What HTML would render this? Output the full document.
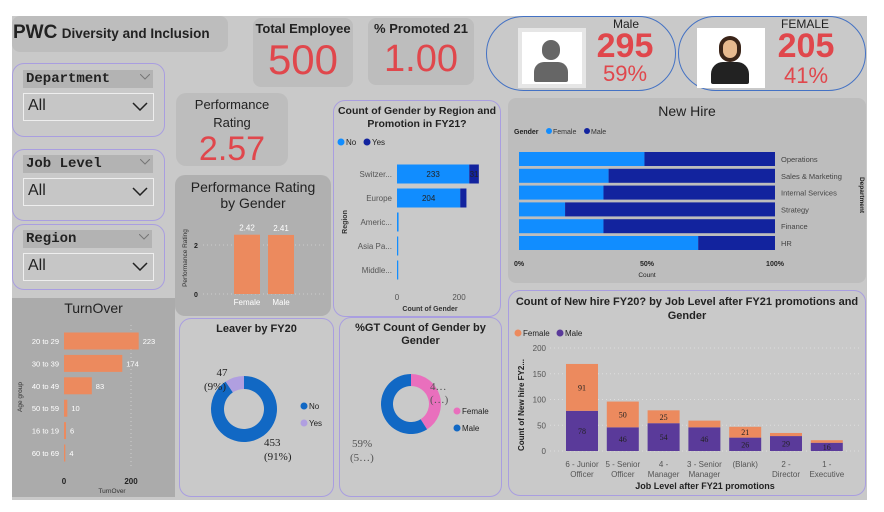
<!DOCTYPE html>
<html><head><meta charset="utf-8">
<style>
body{margin:0;width:884px;height:512px;background:#fff;position:relative;overflow:hidden;font-family:"Liberation Sans",sans-serif}
.a{position:absolute;box-sizing:border-box}
.card{background:#bdbdbd;border-radius:8px}
.brd{border:1.5px solid #a99ee0;border-radius:12px}
.lbl{text-align:center;color:#222;font-weight:bold}
.red{color:#e0474c;text-align:center}
.sh{background:#b3b3b3;font-family:"Liberation Mono",monospace;font-weight:bold;font-size:14px;color:#222;padding-left:3px;line-height:18px}
.dd{border:1.5px solid #eee;background:#c6c6c6;font-size:16px;color:#222;padding-left:4px;line-height:24px}
.chev{position:absolute;right:5px;top:8px}
.chs{position:absolute;right:3px;top:4px}
svg text{font-family:"Liberation Sans",sans-serif}
</style></head><body>
<div class="a" style="left:12px;top:16px;width:855px;height:484px;background:#c9c9c9"></div>
<div class="a card" style="left:12px;top:16px;width:216px;height:36px;padding:6px 0 0 1px;white-space:nowrap"><span style="font-size:19px;font-weight:bold;color:#222">PWC</span> <span style="font-size:13.5px;font-weight:bold;color:#222">Diversity and Inclusion</span></div>

<div class="a card" style="left:253px;top:18px;width:100px;height:69px"><div class="lbl" style="font-size:13px;margin-top:3px">Total Employee</div><div class="red" style="font-size:42px;line-height:44px;margin-top:2px">500</div></div>
<div class="a card" style="left:368px;top:18px;width:106px;height:67px"><div class="lbl" style="font-size:13px;margin-top:3px">% Promoted 21</div><div class="red" style="font-size:38px;line-height:40px;margin-top:3px">1.00</div></div>

<div class="a" style="left:486px;top:16px;width:190px;height:75px;border:1px solid #4472c4;border-radius:38px"></div>
<div class="a" style="left:518px;top:28px;width:68px;height:60px;background:#fff;border:4px solid #e6e6e6"><div style="position:absolute;left:20px;top:8px;width:18px;height:20px;border-radius:9px;background:#666"></div><div style="position:absolute;left:12px;top:30px;width:34px;height:20px;border-radius:10px 10px 2px 2px;background:#666"></div></div>
<div class="a lbl" style="left:596px;top:17px;width:60px;font-size:12px;font-weight:normal">Male</div>
<div class="a red" style="left:588px;top:28px;width:74px;font-size:34px;font-weight:bold;line-height:36px">295</div>
<div class="a red" style="left:588px;top:62px;width:74px;font-size:22px;line-height:24px">59%</div>

<div class="a" style="left:678px;top:16px;width:188px;height:75px;border:1px solid #4472c4;border-radius:38px"></div>
<div class="a" style="left:697px;top:28px;width:68px;height:60px;background:#fff"><div style="position:absolute;left:22px;top:8px;width:22px;height:26px;border-radius:11px;background:#3a2418"></div><div style="position:absolute;left:26px;top:12px;width:14px;height:18px;border-radius:7px;background:#e7b98e"></div><div style="position:absolute;left:14px;top:34px;width:38px;height:22px;border-radius:12px 12px 2px 2px;background:#222"></div></div>
<div class="a lbl" style="left:770px;top:17px;width:70px;font-size:12px;font-weight:normal">FEMALE</div>
<div class="a red" style="left:768px;top:28px;width:76px;font-size:34px;font-weight:bold;line-height:36px">205</div>
<div class="a red" style="left:768px;top:64px;width:76px;font-size:22px;line-height:24px">41%</div>

<div class="a brd" style="left:12px;top:63px;width:153px;height:74px"></div>
<div class="a sh" style="left:23px;top:70px;width:130px;height:18px">Department<svg class="chs" width="10" height="6"><polyline points="0,0 5,5 10,0" fill="none" stroke="#777"/></svg></div>
<div class="a dd" style="left:23px;top:93px;width:131px;height:28px">All<svg class="chev" width="16" height="9"><polyline points="1,1 8,8 15,1" fill="none" stroke="#222" stroke-width="1.5"/></svg></div>

<div class="a brd" style="left:12px;top:149px;width:153px;height:72px"></div>
<div class="a sh" style="left:23px;top:155px;width:130px;height:18px">Job Level<svg class="chs" width="10" height="6"><polyline points="0,0 5,5 10,0" fill="none" stroke="#777"/></svg></div>
<div class="a dd" style="left:23px;top:178px;width:131px;height:28px">All<svg class="chev" width="16" height="9"><polyline points="1,1 8,8 15,1" fill="none" stroke="#222" stroke-width="1.5"/></svg></div>

<div class="a brd" style="left:12px;top:224px;width:153px;height:66px"></div>
<div class="a sh" style="left:23px;top:230px;width:129px;height:18px">Region<svg class="chs" width="10" height="6"><polyline points="0,0 5,5 10,0" fill="none" stroke="#777"/></svg></div>
<div class="a dd" style="left:23px;top:253px;width:131px;height:28px">All<svg class="chev" width="16" height="9"><polyline points="1,1 8,8 15,1" fill="none" stroke="#222" stroke-width="1.5"/></svg></div>

<div class="a card" style="left:176px;top:93px;width:112px;height:73px;border-radius:10px"><div class="lbl" style="font-size:13px;font-weight:normal;line-height:18px;margin-top:3px;color:#222">Performance<br>Rating</div><div class="red" style="font-size:34px;line-height:34px">2.57</div></div>

<div class="a" style="left:175px;top:175px;width:156px;height:141px;background:#b0b0b0;border-radius:10px"><div class="lbl" style="font-size:14px;font-weight:normal;line-height:16px;margin-top:4px">Performance Rating<br>by Gender</div></div>
<div class="a" style="left:12px;top:298px;width:163px;height:199px;background:#ababab"><div class="lbl" style="font-size:14px;font-weight:normal;margin-top:2px;padding-left:0">TurnOver</div></div>
<div class="a brd" style="left:333px;top:100px;width:168px;height:217px"><div class="lbl" style="font-size:10.5px;line-height:13px;margin-top:4px">Count of Gender by Region and<br>Promotion in FY21?</div></div>
<div class="a card" style="left:508px;top:98px;width:358px;height:185px"><div class="lbl" style="font-size:14px;font-weight:normal;margin-top:5px">New Hire</div></div>
<div class="a brd" style="left:179px;top:318px;width:155px;height:179px"><div class="lbl" style="font-size:11px;margin-top:4px">Leaver by FY20</div></div>
<div class="a brd" style="left:339px;top:317px;width:163px;height:180px"><div class="lbl" style="font-size:11px;line-height:13px;margin-top:4px">%GT Count of Gender by<br>Gender</div></div>
<div class="a brd" style="left:508px;top:290px;width:358px;height:206px"><div class="lbl" style="font-size:11px;line-height:14px;margin-top:4px">Count of New hire FY20? by Job Level after FY21 promotions and<br>Gender</div></div>

<svg class="a" id="charts" style="left:0;top:0" width="884" height="512"></svg>
<script>
// Region chart
const regions=["Switzer...","Europe","Americ...","Asia Pa...","Middle..."];
const regionNo=[233,204,5,4,4];
const regionYes=[31,20,0,0,0];
// Perf by gender
const perfCats=["Female","Male"];
const perfVals=[2.42,2.41];
// Turnover
const ageGroups=["20 to 29","30 to 39","40 to 49","50 to 59","16 to 19","60 to 69"];
const turnover=[223,174,83,10,6,4];
// New hire by department (percent female)
const depts=["Operations","Sales & Marketing","Internal Services","Strategy","Finance","HR"];
const deptFemalePct=[49,35,33,18,33,70];
// Leaver
const leaverLabels=["No","Yes"];
const leaverVals=[453,47];
// Gender
const genderLabels=["Female","Male"];
const genderVals=[205,295];
// Job level
const jobLevels=[["6 - Junior","Officer"],["5 - Senior","Officer"],["4 -","Manager"],["3 - Senior","Manager"],["(Blank)",""],["2 -","Director"],["1 -","Executive"]];
const jobMale=[78,46,54,46,26,29,16];
const jobFemale=[91,50,25,13,21,6,5];
const jobTicks=[0,50,100,150,200];

const svg=document.getElementById('charts');
const NS="http://www.w3.org/2000/svg";
function el(t,at,txt){const e=document.createElementNS(NS,t);for(const k in at)e.setAttribute(k,at[k]);if(txt!==undefined)e.textContent=txt;svg.appendChild(e);return e;}

// Region chart
{const x=v=>397+v*0.31, y=i=>174+i*24;
 el('circle',{cx:341,cy:142,r:3.5,fill:'#118dff'});el('text',{x:346,y:145,'font-size':8,fill:'#222'},'No');
 el('circle',{cx:367,cy:142,r:3.5,fill:'#12239e'});el('text',{x:372,y:145,'font-size':8,fill:'#222'},'Yes');
 regions.forEach((r,i)=>{
  el('text',{x:392,y:y(i)+3,'font-size':8,fill:'#555','text-anchor':'end'},r);
  let b=el('rect',{x:x(0),y:y(i)-9.5,width:regionNo[i]*0.31,height:19,fill:'#118dff'});
  
  let c=el('rect',{x:x(regionNo[i]),y:y(i)-9.5,width:regionYes[i]*0.31,height:19,fill:'#12239e'});
  
  if(regionNo[i]>50)el('text',{x:x(regionNo[i]/2),y:y(i)+3,'font-size':8,fill:'#222','text-anchor':'middle'},regionNo[i]);
  if(regionYes[i]>25)el('text',{x:x(regionNo[i]+regionYes[i]/2),y:y(i)+3,'font-size':8,fill:'#222','text-anchor':'middle'},regionYes[i]);
 });
 [0,200].forEach(t=>el('text',{x:x(t),y:300,'font-size':8,fill:'#555','text-anchor':'middle'},t));
 el('text',{x:430,y:311,'font-size':7,fill:'#333','text-anchor':'middle','font-weight':'bold'},'Count of Gender');
 el('text',{x:0,y:0,'font-size':7,fill:'#333','font-weight':'bold',transform:'translate(347,222) rotate(-90)','text-anchor':'middle'},'Region');
}
// Perf by gender
{const y=v=>294-v*24.5, xs=[234,268];
 [0,2].forEach(t=>{el('line',{x1:203,x2:325,y1:y(t),y2:y(t),stroke:'#ccc','stroke-dasharray':'1 3'});el('text',{x:196,y:y(t)+3,'font-size':7,'font-weight':'bold',fill:'#222','text-anchor':'middle'},t);});
 perfCats.forEach((c,i)=>{let b=el('rect',{x:xs[i],y:y(perfVals[i]),width:26,height:perfVals[i]*24.5,fill:'#ec8a5e'});
  
  el('text',{x:xs[i]+13,y:y(perfVals[i])-4,'font-size':8,fill:'#fff','text-anchor':'middle'},perfVals[i].toFixed(2));
  el('text',{x:xs[i]+13,y:305,'font-size':8,fill:'#fff','text-anchor':'middle'},c);});
 el('text',{x:0,y:0,'font-size':6.5,fill:'#333',transform:'translate(187,258) rotate(-90)','text-anchor':'middle'},'Performance Rating');
}
// Turnover
{const x=v=>64+v*0.335, y=i=>341+i*22.4;
 el('line',{x1:131,x2:131,y1:325,y2:468,stroke:'#ccc','stroke-dasharray':'1 3'});
 ageGroups.forEach((g,i)=>{el('text',{x:59,y:y(i)+3,'font-size':7.5,fill:'#fff','text-anchor':'end'},g);
  let b=el('rect',{x:64,y:y(i)-8.5,width:turnover[i]*0.335,height:17,fill:'#ec8a5e'});
  
  el('text',{x:x(turnover[i])+4,y:y(i)+3,'font-size':7.5,fill:'#fff'},turnover[i]);});
 [0,200].forEach(t=>el('text',{x:x(t),y:484,'font-size':8,'font-weight':'bold',fill:'#222','text-anchor':'middle'},t));
 el('text',{x:112,y:493,'font-size':6.5,fill:'#333','text-anchor':'middle'},'TurnOver');
 el('text',{x:0,y:0,'font-size':6.5,fill:'#333',transform:'translate(22,397) rotate(-90)','text-anchor':'middle'},'Age group');
}
// New hire
{const x=p=>519+p*2.56, y=i=>159+i*16.8;
 el('text',{x:514,y:134,'font-size':7,'font-weight':'bold',fill:'#222'},'Gender');
 el('circle',{cx:549,cy:131,r:3,fill:'#118dff'});el('text',{x:553,y:134,'font-size':7,fill:'#333'},'Female');
 el('circle',{cx:587,cy:131,r:3,fill:'#12239e'});el('text',{x:591,y:134,'font-size':7,fill:'#333'},'Male');
 depts.forEach((d,i)=>{let f=el('rect',{x:519,y:y(i)-7,width:deptFemalePct[i]*2.56,height:14,fill:'#118dff'});
  
  let m=el('rect',{x:x(deptFemalePct[i]),y:y(i)-7,width:(100-deptFemalePct[i])*2.56,height:14,fill:'#12239e'});
  
  el('text',{x:781,y:y(i)+3,'font-size':7.5,fill:'#444'},d);});
 [[0,'0%'],[50,'50%'],[100,'100%']].forEach(t=>el('text',{x:x(t[0]),y:266,'font-size':7,'font-weight':'bold',fill:'#222','text-anchor':'middle'},t[1]));
 el('text',{x:647,y:277,'font-size':6.5,fill:'#222','text-anchor':'middle'},'Count');
 el('text',{x:0,y:0,'font-size':6.5,'font-weight':'bold',fill:'#222',transform:'translate(860,195) rotate(90)','text-anchor':'middle'},'Department');
}
// Donuts
function donut(cx,cy,R,r,vals,cols,name){const tot=vals.reduce((a,b)=>a+b,0);let a0=-Math.PI/2;
 vals.forEach((v,i)=>{const a1=a0+v/tot*2*Math.PI,l=(a1-a0)>Math.PI?1:0;
  const p=`M${cx+R*Math.cos(a0)},${cy+R*Math.sin(a0)} A${R},${R} 0 ${l} 1 ${cx+R*Math.cos(a1)},${cy+R*Math.sin(a1)} L${cx+r*Math.cos(a1)},${cy+r*Math.sin(a1)} A${r},${r} 0 ${l} 0 ${cx+r*Math.cos(a0)},${cy+r*Math.sin(a0)}Z`;
  const s=el('path',{d:p,fill:cols[i]});a0=a1;});}
{const tot=leaverVals[0]+leaverVals[1];
 donut(244,409,33,20,[leaverVals[0],leaverVals[1]],['#1168c4','#b09fe0'],'leaver-slice');
 el('text',{x:222,y:376,'font-size':11,fill:'#222','text-anchor':'middle','style':'font-family:Liberation Serif'},leaverVals[1]);
 el('text',{x:215,y:390,'font-size':11,fill:'#222','text-anchor':'middle','style':'font-family:Liberation Serif'},'('+Math.round(leaverVals[1]/tot*100)+'%)');
 el('text',{x:264,y:446,'font-size':11,fill:'#222','style':'font-family:Liberation Serif'},leaverVals[0]);
 el('text',{x:264,y:460,'font-size':11,fill:'#222','style':'font-family:Liberation Serif'},'('+Math.round(leaverVals[0]/tot*100)+'%)');
 el('circle',{cx:304,cy:406,r:3.5,fill:'#1168c4'});el('text',{x:309,y:409,'font-size':8,fill:'#222'},leaverLabels[0]);
 el('circle',{cx:304,cy:423,r:3.5,fill:'#b09fe0'});el('text',{x:309,y:426,'font-size':8,fill:'#222'},leaverLabels[1]);
}
{donut(411,404,30,18,genderVals,['#e96fbd','#1168c4'],'gender-slice');
 el('text',{x:430,y:390,'font-size':11,fill:'#555','style':'font-family:Liberation Serif'},'4…');
 el('text',{x:430,y:403,'font-size':11,fill:'#555','style':'font-family:Liberation Serif'},'(…)');
 el('text',{x:352,y:447,'font-size':11,fill:'#555','style':'font-family:Liberation Serif'},'59%');
 el('text',{x:350,y:461,'font-size':11,fill:'#555','style':'font-family:Liberation Serif'},'(5…)');
 el('circle',{cx:457,cy:411,r:3.5,fill:'#e96fbd'});el('text',{x:462,y:414,'font-size':8,fill:'#222'},genderLabels[0]);
 el('circle',{cx:457,cy:428,r:3.5,fill:'#1168c4'});el('text',{x:462,y:431,'font-size':8,fill:'#222'},genderLabels[1]);
}
// Job level chart
{const y=v=>451-v*0.515, xc=i=>582+i*40.8;
 el('circle',{cx:518,cy:333,r:3.5,fill:'#ec8a5e'});el('text',{x:523,y:336,'font-size':8,fill:'#222'},'Female');
 el('circle',{cx:560,cy:333,r:3.5,fill:'#5a3a9a'});el('text',{x:565,y:336,'font-size':8,fill:'#222'},'Male');
 jobTicks.forEach(t=>{el('line',{x1:550,x2:860,y1:y(t),y2:y(t),stroke:'#ddd','stroke-dasharray':'1 3'});el('text',{x:546,y:y(t)+3,'font-size':8,fill:'#555','text-anchor':'end'},t);});
 jobLevels.forEach((j,i)=>{
  let m=el('rect',{x:xc(i)-16,y:y(jobMale[i]),width:32,height:jobMale[i]*0.515,fill:'#5a3a9a'});
  
  let f=el('rect',{x:xc(i)-16,y:y(jobMale[i]+jobFemale[i]),width:32,height:jobFemale[i]*0.515,fill:'#ec8a5e'});
  
  el('text',{x:xc(i),y:y(jobMale[i]/2)+3,'font-size':8,fill:'#222','text-anchor':'middle','style':'font-family:Liberation Serif'},jobMale[i]);
  if(jobFemale[i]>=20)el('text',{x:xc(i),y:y(jobMale[i]+jobFemale[i]/2)+3,'font-size':8,fill:'#222','text-anchor':'middle','style':'font-family:Liberation Serif'},jobFemale[i]);
  el('text',{x:xc(i),y:467,'font-size':8,fill:'#555','text-anchor':'middle'},j[0]);
  el('text',{x:xc(i),y:477,'font-size':8,fill:'#555','text-anchor':'middle'},j[1]);});
 el('text',{x:705,y:489,'font-size':9,'font-weight':'bold',fill:'#222','text-anchor':'middle'},'Job Level after FY21 promotions');
 el('text',{x:0,y:0,'font-size':8,'font-weight':'bold',fill:'#222',transform:'translate(524,405) rotate(-90)','text-anchor':'middle'},'Count of New hire FY2...');
}
</script>
</body></html>
